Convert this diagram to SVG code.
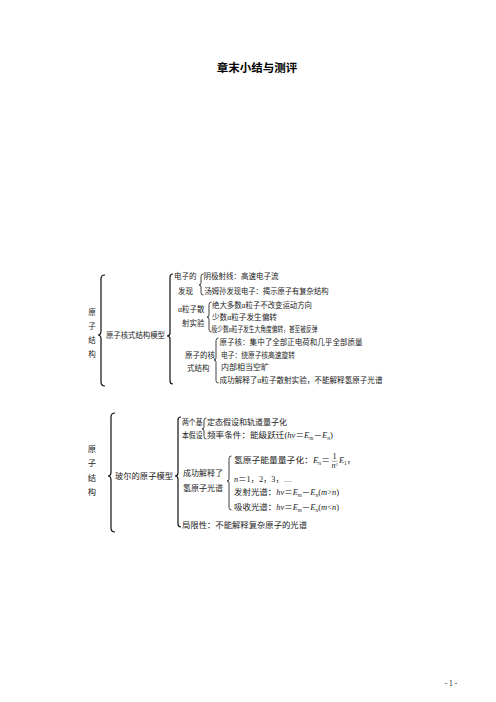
<svg xmlns="http://www.w3.org/2000/svg" width="496" height="702" viewBox="0 0 496 702">
<style>
.t{font-family:"Liberation Serif","Noto Sans CJK SC",serif;fill:#222;font-size:7.5px}
.t2{font-family:"Liberation Serif","Noto Sans CJK SC",serif;fill:#222;font-size:8.3px}
.i{font-style:italic}
.title{font-family:"Noto Sans CJK SC",sans-serif;font-weight:bold;font-size:11.5px;fill:#000}
.br{fill:none;stroke:#111;stroke-width:0.8}
.bb{fill:none;stroke:#111;stroke-width:1.2}
</style>
<rect width="496" height="702" fill="#fff"/>
<g id="title"><text class="title" x="257" y="72" text-anchor="middle">章末小结与测评</text></g>

<g id="connectors">
<path class="bb" d="M105 275 Q101 275 101 279 L101 331 Q101 335 98 335 Q101 335 101 339 L101 382 Q101 386 105 386"/>
<path class="bb" d="M173 274 Q170 274 170 277 L170 333 Q170 336 167 336 Q170 336 170 339 L170 381 Q170 384 173 384"/>
<path class="br" d="M203.5 274 Q201 274 201 276.5 L201 283 Q201 285 199 285 Q201 285 201 287 L201 292.5 Q201 295 203.5 295"/>
<path class="br" d="M211.5 302 Q209 302 209 304.5 L209 315 Q209 317 207 317 Q209 317 209 319 L209 329.5 Q209 332 211.5 332"/>
<path class="br" d="M218.5 338 Q216 338 216 340.5 L216 358 Q216 360 214 360 Q216 360 216 362 L216 380.5 Q216 383 218.5 383"/>
<path class="bb" d="M115 413 Q111 413 111 417 L111 472 Q111 476 108 476 Q111 476 111 480 L111 528 Q111 532 115 532"/>
<path class="bb" d="M181 417 Q178 417 178 420 L178 473 Q178 476 175 476 Q178 476 178 479 L178 524 Q178 527 181 527"/>
<path class="br" d="M206.5 418 Q204 418 204 420.5 L204 427 Q204 429 202 429 Q204 429 204 431 L204 436.5 Q204 439 206.5 439"/>
<path class="br" d="M231.5 456 Q229 456 229 458.5 L229 479 Q229 481 227 481 Q229 481 229 483 L229 507.5 Q229 510 231.5 510"/>
</g>

<g id="s1-root">
<text class="t" x="92" y="315" text-anchor="middle" font-size="8">原</text>
<text class="t" x="92" y="329" text-anchor="middle" font-size="8">子</text>
<text class="t" x="92" y="343" text-anchor="middle" font-size="8">结</text>
<text class="t" x="92" y="357" text-anchor="middle" font-size="8">构</text>
</g>
<g id="s1-model"><text class="t" x="106" y="338" textLength="59" lengthAdjust="spacingAndGlyphs">原子核式结构模型</text></g>
<g id="s1-electron">
<text class="t" x="174" y="279">电子的</text>
<text class="t" x="178" y="294">发现</text>
</g>
<g id="s1-electron-items">
<text class="t" x="203.5" y="279" textLength="75" lengthAdjust="spacingAndGlyphs">阴极射线：高速电子流</text>
<text class="t" x="204.5" y="294" textLength="124" lengthAdjust="spacingAndGlyphs">汤姆孙发现电子：揭示原子有复杂结构</text>
</g>
<g id="s1-alpha">
<text class="t" x="178" y="312">α粒子散</text>
<text class="t" x="182" y="326">射实验</text>
</g>
<g id="s1-alpha-items">
<text class="t" x="212" y="308" textLength="100" lengthAdjust="spacingAndGlyphs">绝大多数α粒子不改变运动方向</text>
<text class="t" x="212" y="320" textLength="65" lengthAdjust="spacingAndGlyphs">少数α粒子发生偏转</text>
<text class="t" x="211.5" y="332" textLength="106" lengthAdjust="spacingAndGlyphs">极少数α粒子发生大角度偏转，甚至被反弹</text>
</g>
<g id="s1-nucleus">
<text class="t" x="185" y="358">原子的核</text>
<text class="t" x="187" y="371">式结构</text>
</g>
<g id="s1-nucleus-items">
<text class="t" x="219.5" y="345" textLength="143" lengthAdjust="spacingAndGlyphs">原子核：集中了全部正电荷和几乎全部质量</text>
<text class="t" x="221" y="358" textLength="74" lengthAdjust="spacingAndGlyphs">电子：绕原子核高速旋转</text>
<text class="t" x="221" y="370" textLength="48" lengthAdjust="spacingAndGlyphs">内部相当空旷</text>
<text class="t" x="219.5" y="383" textLength="163" lengthAdjust="spacingAndGlyphs">成功解释了α粒子散射实验，不能解释氢原子光谱</text>
</g>

<g id="s2-root">
<text class="t2" x="92" y="452" text-anchor="middle">原</text>
<text class="t2" x="92" y="466" text-anchor="middle">子</text>
<text class="t2" x="92" y="481" text-anchor="middle">结</text>
<text class="t2" x="92" y="495" text-anchor="middle">构</text>
</g>
<g id="s2-model"><text class="t2" x="115" y="479" textLength="58" lengthAdjust="spacingAndGlyphs">玻尔的原子模型</text></g>
<g id="s2-postulates">
<text class="t2" x="182" y="425" textLength="20.5" lengthAdjust="spacingAndGlyphs">两个基</text>
<text class="t2" x="182" y="438" textLength="20.5" lengthAdjust="spacingAndGlyphs">本假设</text>
</g>
<g id="s2-postulate-items">
<text class="t2" x="207" y="425" textLength="80" lengthAdjust="spacingAndGlyphs">定态假设和轨道量子化</text>
<text class="t2" x="207" y="438" textLength="126" lengthAdjust="spacingAndGlyphs">频率条件：能级跃迁(<tspan class="i">hν</tspan>＝<tspan class="i">E</tspan><tspan font-size="5.5" dy="1.5" class="i">m</tspan><tspan dy="-1.5">－</tspan><tspan class="i">E</tspan><tspan font-size="5.5" dy="1.5" class="i">n</tspan><tspan dy="-1.5">)</tspan></text>
</g>
<g id="s2-spectrum">
<text class="t2" x="183" y="476" textLength="40" lengthAdjust="spacingAndGlyphs">成功解释了</text>
<text class="t2" x="183" y="491" textLength="40" lengthAdjust="spacingAndGlyphs">氢原子光谱</text>
</g>
<g id="s2-spectrum-items">
<text class="t2" x="234" y="463" textLength="96" lengthAdjust="spacingAndGlyphs">氢原子能量量子化：<tspan class="i">E</tspan><tspan font-size="5.5" dy="1.5" class="i">n</tspan><tspan dy="-1.5">＝</tspan></text>
<text class="t2" x="334.5" y="459" font-size="5.2" text-anchor="middle">1</text>
<line x1="332" y1="461.3" x2="337.5" y2="461.3" stroke="#222" stroke-width="0.4"/>
<text class="t2" x="334.5" y="467.5" font-size="5.2" text-anchor="middle"><tspan class="i">n</tspan><tspan font-size="3.8" dy="-2">2</tspan></text>
<text class="t2" x="339" y="463"><tspan class="i">E</tspan><tspan font-size="5.5" dy="1.5">1</tspan><tspan dy="-1.5">，</tspan></text>
<text class="t2" x="234" y="482"><tspan class="i">n</tspan>＝1，2，3，…</text>
<text class="t2" x="234" y="495" textLength="105" lengthAdjust="spacingAndGlyphs">发射光谱：<tspan class="i">hν</tspan>＝<tspan class="i">E</tspan><tspan font-size="5.5" dy="1.5" class="i">m</tspan><tspan dy="-1.5">－</tspan><tspan class="i">E</tspan><tspan font-size="5.5" dy="1.5" class="i">n</tspan><tspan dy="-1.5">(</tspan><tspan class="i">m</tspan>&gt;<tspan class="i">n</tspan>)</text>
<text class="t2" x="234" y="510" textLength="105" lengthAdjust="spacingAndGlyphs">吸收光谱：<tspan class="i">hν</tspan>＝<tspan class="i">E</tspan><tspan font-size="5.5" dy="1.5" class="i">m</tspan><tspan dy="-1.5">－</tspan><tspan class="i">E</tspan><tspan font-size="5.5" dy="1.5" class="i">n</tspan><tspan dy="-1.5">(</tspan><tspan class="i">m</tspan>&lt;<tspan class="i">n</tspan>)</text>
</g>
<g id="s2-limit"><text class="t2" x="182" y="528" textLength="125" lengthAdjust="spacingAndGlyphs">局限性：不能解释复杂原子的光谱</text></g>

<g id="page"><text class="t" x="451" y="686" text-anchor="middle" font-size="6.5">- 1 -</text></g>
</svg>
